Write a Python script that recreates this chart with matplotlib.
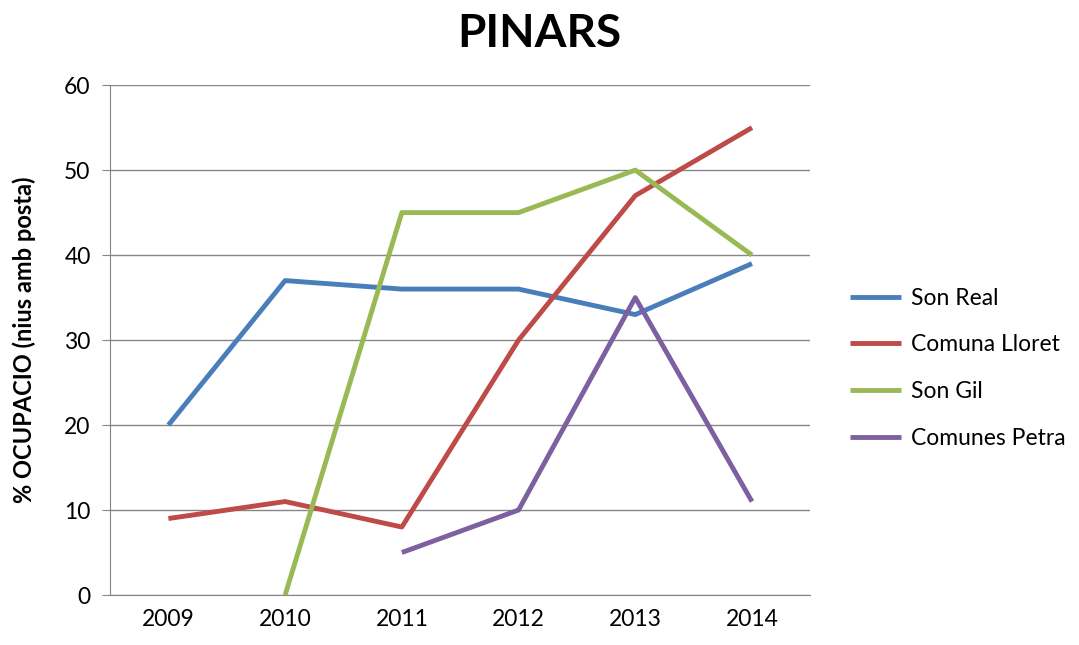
import matplotlib
matplotlib.use('Agg')
import matplotlib.pyplot as plt
import numpy as np

years = ['2009', '2010', '2011', '2012', '2013', '2014']
son_real = [20, 37, 36, 36, 33, 39]
comuna_lloret = [9, 11, 8, 30, 47, 55]
son_gil = [np.nan, 0, 45, 45, 50, 40]
comunes_petra = [np.nan, np.nan, 5, 10, 35, 11]

series = [
    ('Son Real', son_real, '#4A7EBB'),
    ('Comuna Lloret', comuna_lloret, '#BE4B48'),
    ('Son Gil', son_gil, '#98B954'),
    ('Comunes Petra', comunes_petra, '#7D60A0'),
]

plt.rcParams['font.family'] = ['Lato', 'DejaVu Sans']

fig = plt.figure(figsize=(10.79, 6.45), dpi=100)
ax = fig.add_axes([0.102, 0.0775, 0.649, 0.7905])

x = np.arange(len(years))
for name, vals, color in series:
    ax.plot(x, vals, color=color, linewidth=3.5, label=name, solid_capstyle='butt')

ax.set_xlim(-0.5, len(years) - 0.5)
ax.set_ylim(0, 60)
ax.set_yticks(range(0, 61, 10))
ax.set_xticks(x)
ax.set_xticklabels(years)
ax.tick_params(axis='both', labelsize=16.5, colors='black', length=0, pad=10)
ax.tick_params(axis='y', length=6, color='#868686', direction='out', pad=8)
ax.yaxis.grid(True, color='#868686', linewidth=1)
ax.set_axisbelow(True)
for s in ['top', 'right']:
    ax.spines[s].set_visible(False)
for s in ['left', 'bottom']:
    ax.spines[s].set_color('#868686')

ax.set_ylabel('% OCUPACIO (nius amb posta)', fontsize=17, fontweight='bold', labelpad=20)
fig.suptitle('PINARS', x=0.5, y=0.98, fontsize=33, fontweight='bold')

ax.legend(loc='center left', bbox_to_anchor=(1.057, 0.445), frameon=False,
          borderpad=0, borderaxespad=0, fontsize=16.5, handlelength=2.2,
          handletextpad=0.45, labelspacing=1.12)

fig.savefig('out.png', dpi=100)
